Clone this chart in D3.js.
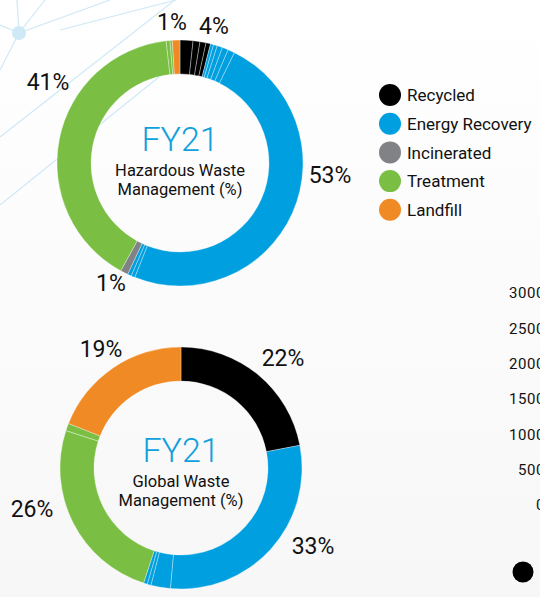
<!DOCTYPE html>
<html>
<head>
<meta charset="utf-8">
<script src="https://cdn.jsdelivr.net/npm/d3@7"></script>
<style>
  html, body { margin: 0; padding: 0; background: #ffffff; }
  svg { display: block; }
  text { font-family: Roboto, "Open Sans", sans-serif; }
</style>
</head>
<body>
<svg id="chart" width="540" height="597"></svg>
<script>
// Waste categories, in drawing order (clockwise from 12 o'clock)
const categories = ["Recycled", "Energy Recovery", "Incinerated", "Treatment", "Landfill"];
const colors = ["#000000", "#009fdf", "#808285", "#7abf43", "#f08a24"];

// FY21 hazardous waste, % share per category, split into reporting sub-parts
const hazardousParts = [
  [1.7, 0.9, 0.8, 0.6],                     // Recycled 4%
  [0.4, 0.5, 0.7, 0.8, 0.9, 48.7, 0.5, 0.5], // Energy Recovery 53%
  [1],                                      // Incinerated 1%
  [40.2, 0.5, 0.3],                         // Treatment 41%
  [1]                                       // Landfill 1%
];
const hazardousLabels = ["4%", "53%", "1%", "41%", "1%"];

// FY21 global waste, % share per category
const globalParts = [
  [22],                    // Recycled 22%
  [29.4, 2.6, 0.5, 0.5],   // Energy Recovery 33%
  [],                      // Incinerated
  [25, 1],                 // Treatment 26%
  [19]                     // Landfill 19%
];
const globalLabels = ["22%", "33%", "", "26%", "19%"];

// Right-hand axis ticks (tonnes)
const axisTicks = [0, 500, 1000, 1500, 2000, 2500, 3000];

const svg = d3.select("#chart");

// soft background shading
const defs = svg.append("defs");
const bg = defs.append("linearGradient").attr("id", "bg")
  .attr("x1", 0).attr("y1", 0).attr("x2", 0).attr("y2", 1);
bg.append("stop").attr("offset", "0%").attr("stop-color", "#ffffff");
bg.append("stop").attr("offset", "100%").attr("stop-color", "#f7f7f7");
svg.append("rect").attr("width", 540).attr("height", 597).attr("fill", "url(#bg)");

// decorative network lines, top-left
const net = svg.append("g").attr("stroke", "#cfe9f6").attr("stroke-width", 1.2).attr("fill", "none");
const node = [19, 33];
[[17, 0], [45, 0], [110, 0], [0, 25], [0, 70]].forEach(p =>
  net.append("line").attr("x1", node[0]).attr("y1", node[1]).attr("x2", p[0]).attr("y2", p[1]));
net.append("line").attr("x1", 0).attr("y1", 137).attr("x2", 175).attr("y2", 0);
net.append("line").attr("x1", 60).attr("y1", 30).attr("x2", 176).attr("y2", 0);
net.append("line").attr("x1", 0).attr("y1", 205).attr("x2", 180).attr("y2", 60);
svg.append("circle").attr("cx", node[0]).attr("cy", node[1]).attr("r", 7).attr("fill", "#cfe9f6");

function donut(cfg) {
  const g = svg.append("g").attr("transform", `translate(${cfg.cx},${cfg.cy})`);
  const flat = [];
  cfg.parts.forEach((arr, ci) => arr.forEach(v => flat.push({ cat: ci, value: v })));
  const pie = d3.pie().sort(null).value(d => d.value);
  const arc = d3.arc().innerRadius(cfg.inner).outerRadius(cfg.outer);
  g.selectAll("path.slice").data(pie(flat)).join("path")
    .attr("class", "slice")
    .attr("d", arc)
    .attr("fill", d => colors[d.data.cat])
    .attr("stroke", "rgba(255,255,255,0.55)")
    .attr("stroke-width", 0.6);

  // centre title
  const t0 = cfg.titleShift;
  g.append("text").attr("text-anchor", "middle").attr("y", -12 + t0)
    .attr("font-size", 34).attr("font-weight", 300).attr("fill", "#10a0dc").text("FY21");
  cfg.title.forEach((t, i) =>
    g.append("text").attr("text-anchor", "middle").attr("y", 13 + t0 + i * 19)
      .attr("font-size", 16.5).attr("fill", "#111").text(t));

  // percentage labels
  cfg.labels.forEach(l =>
    g.append("text").attr("text-anchor", "middle").attr("dominant-baseline", "central")
      .attr("x", l.dx).attr("y", l.dy)
      .attr("font-size", 23).attr("fill", "#111").text(l.text));
}

donut({
  cx: 180, cy: 163, outer: 123, inner: 89, titleShift: 0,
  parts: hazardousParts,
  title: ["Hazardous Waste", "Management (%)"],
  labels: [
    { text: hazardousLabels[4], dx: -8, dy: -141 },
    { text: hazardousLabels[0], dx: 34, dy: -137 },
    { text: hazardousLabels[3], dx: -132, dy: -81 },
    { text: hazardousLabels[1], dx: 150, dy: 12 },
    { text: hazardousLabels[2], dx: -69, dy: 120 }
  ]
});

donut({
  cx: 181, cy: 468, outer: 121, inner: 87, titleShift: 6,
  parts: globalParts,
  title: ["Global Waste", "Management (%)"],
  labels: [
    { text: globalLabels[4], dx: -80, dy: -119 },
    { text: globalLabels[0], dx: 102, dy: -110 },
    { text: globalLabels[3], dx: -149, dy: 41 },
    { text: globalLabels[1], dx: 132, dy: 78 }
  ]
});

// legend
const legend = svg.append("g").attr("transform", "translate(390,95)");
categories.forEach((c, i) => {
  const row = legend.append("g").attr("transform", `translate(0,${i * 28.7})`);
  row.append("circle").attr("r", 11).attr("fill", colors[i]);
  row.append("text").attr("x", 17).attr("dy", "0.36em")
    .attr("font-size", 17).attr("fill", "#111").text(c);
});

// partial value axis on the right edge
const y = d3.scaleLinear().domain([0, 3000]).range([505, 293]);
const axis = d3.axisLeft(y).tickValues(axisTicks).tickFormat(d3.format("d")).tickSize(0).tickPadding(0);
const ax = svg.append("g").attr("transform", "translate(545,0)").call(axis);
ax.select(".domain").remove();
ax.selectAll("text").attr("font-family", "Roboto, sans-serif").attr("font-size", 15)
  .attr("letter-spacing", 0.6).attr("fill", "#111");

// series marker below the axis
svg.append("circle").attr("cx", 523).attr("cy", 572).attr("r", 10.5).attr("fill", "#000");
</script>
</body>
</html>
